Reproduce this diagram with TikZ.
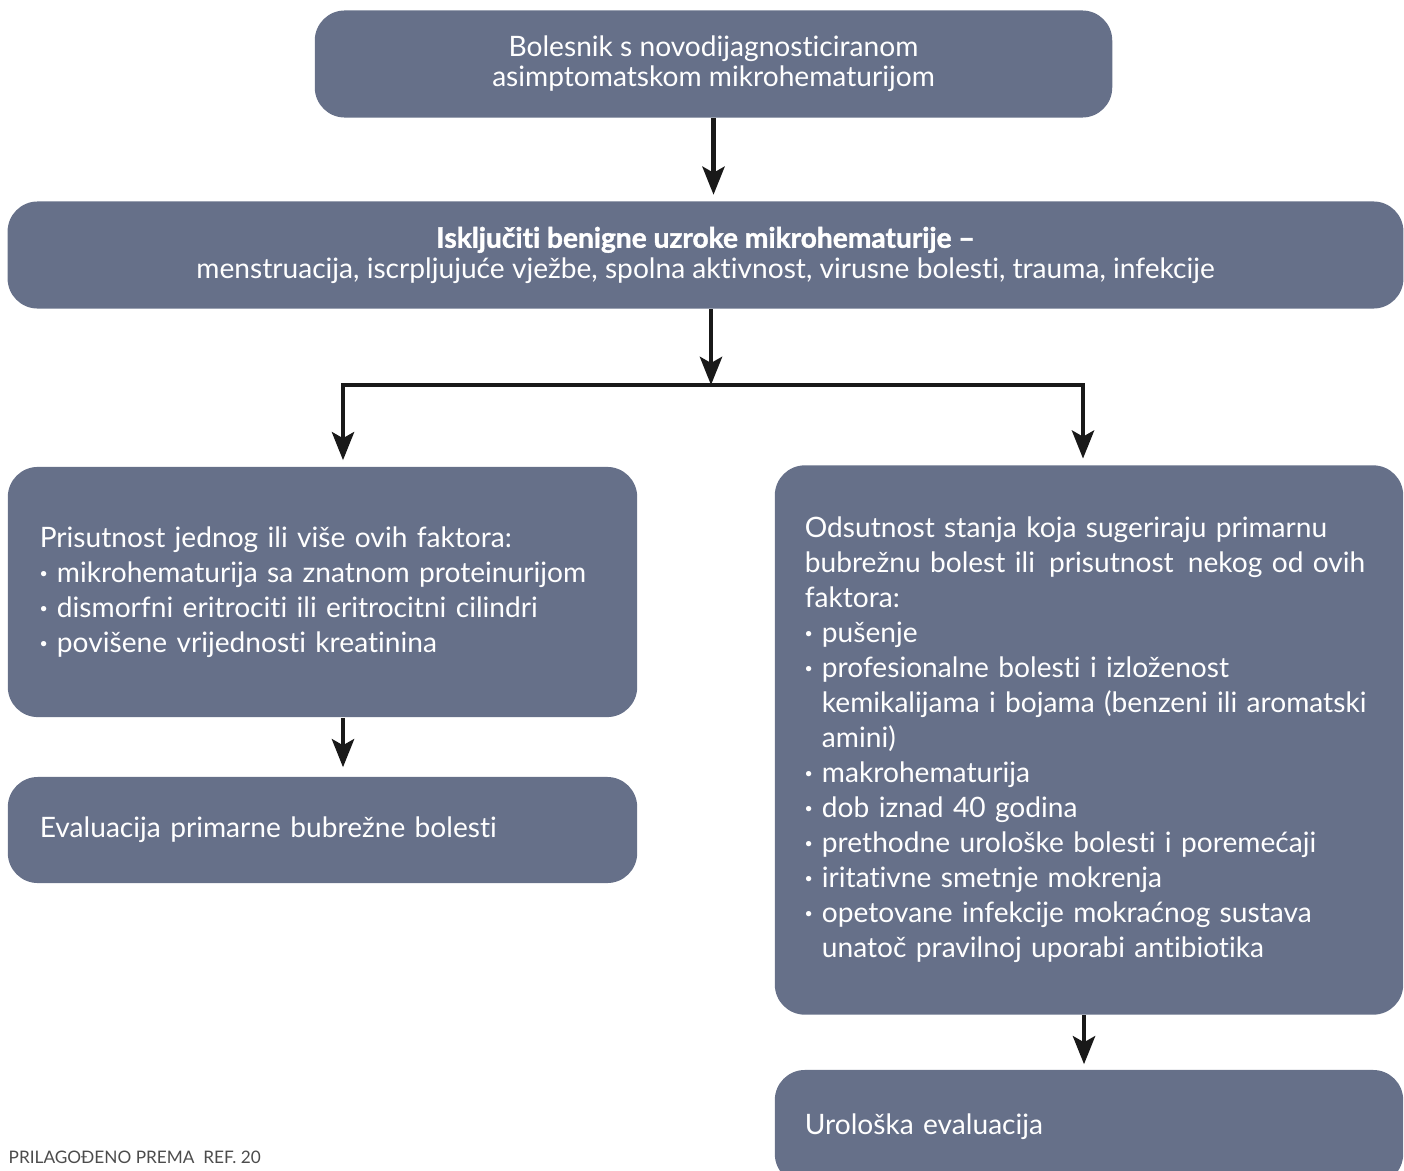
\documentclass[tikz,border=0pt]{standalone}
\usepackage{fontspec}
\setmainfont{Lato}[Ligatures=NoCommon]
\usetikzlibrary{arrows.meta}

\definecolor{boxgray}{HTML}{667089}
\newcommand{\bul}{\textbf{·}\ }
\newcommand{\ind}{\phantom{\bul}}
\newcommand{\heavy}{\bfseries\addfontfeatures{FakeBold=1.4}}

\tikzset{
  box/.style={fill=boxgray, rounded corners=0.3cm, text=white, inner sep=0pt,
    font=\fontsize{8}{8.6}\selectfont},
  leftbox/.style={box, align=left, font=\fontsize{8}{9.95}\selectfont},
  flow/.style={line width=1.4pt, draw=black!90,
    -{Stealth[length=0.28cm,width=0.22cm,inset=0.06cm]}, shorten >=0.06cm}
}

\begin{document}
\begin{tikzpicture}[x=0.01cm, y=-0.01cm]
    \clip (0,0) rectangle (1404,1170);

    \node (pat) at (713.5,64) [box, minimum width=7.97cm, minimum height=1.07cm, align=center]
      {Bolesnik s novodijagnosticiranom\\asimptomatskom mikrohematurijom};
    \node (excl) at (705.5,255) [box, minimum width=13.95cm, minimum height=1.07cm, align=center]
      {{\heavy Isključiti benigne uzroke mikrohematurije –}\\
       menstruacija, iscrpljujuće vježbe, spolna aktivnost, virusne bolesti, trauma, infekcije};

    \node (pres) at (322.5,592) [leftbox, text width=5.65cm, inner xsep=0.32cm, minimum height=2.5cm]
      {Prisutnost jednog ili više ovih faktora:\\
       \bul mikrohematurija sa znatnom proteinurijom\\
       \bul dismorfni eritrociti ili eritrocitni cilindri\\
       \bul povišene vrijednosti kreatinina};
    \node (evalB) at (322.5,830) [leftbox, text width=5.65cm, inner xsep=0.32cm, minimum height=1.06cm]
      {Evaluacija primarne bubrežne bolesti};

    \node (abs) at (1089,740) [leftbox, text width=5.68cm, inner xsep=0.30cm, minimum height=5.49cm]
      {Odsutnost stanja koja sugeriraju primarnu\\
       \mbox{bubrežnu bolest ili\ \,prisutnost\ \,nekog od ovih}\\
       faktora:\\
       \bul pušenje\\
       \bul profesionalne bolesti i izloženost\\
       \ind kemikalijama i bojama (benzeni ili aromatski\\
       \ind amini)\\
       \bul makrohematurija\\
       \bul dob iznad 40 godina\\
       \bul prethodne urološke bolesti i poremećaji\\
       \bul iritativne smetnje mokrenja\\
       \bul opetovane infekcije mokraćnog sustava\\
       \ind unatoč pravilnoj uporabi antibiotika};
    \node (evalU) at (1089,1127) [leftbox, text width=5.68cm, inner xsep=0.30cm, minimum height=1.14cm]
      {Urološka evaluacija};

    \coordinate (split) at (711,385);
    \coordinate (splitL) at (343,385);
    \coordinate (splitR) at (1083,385);

    \draw[flow] (pat.south) -- (pat.south |- excl.north);
    \draw[flow, shorten >=0pt] (split |- excl.south) -- (split);
    \draw[flow, shorten <=0.06cm, {Stealth[length=0.28cm,width=0.22cm,inset=0.06cm]}-{Stealth[length=0.28cm,width=0.22cm,inset=0.06cm]}]
      (splitL |- pres.north) -- (splitL) -- (splitR) -- (splitR |- abs.north);
    \draw[flow, shorten >=0.09cm] (splitL |- pres.south) -- (splitL |- evalB.north);
    \draw[flow, shorten >=0.05cm] (1084,0 |- abs.south) -- (1084,0 |- evalU.north);

    \node (src) at (8,1163) [anchor=base west, inner sep=0pt, text=black!70, font=\fontsize{4.9}{6}\selectfont]
      {PRILAGOĐENO PREMA\ \ REF. 20};
\end{tikzpicture}
\end{document}
